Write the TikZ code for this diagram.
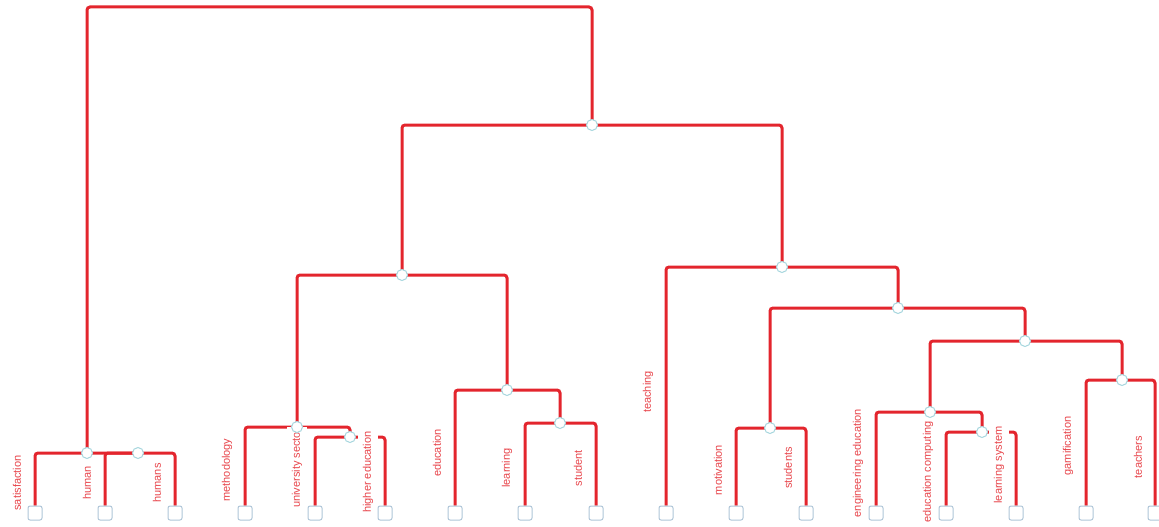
\documentclass[tikz,border=0pt]{standalone}
\usepackage{fontspec}
\setmainfont{Liberation Sans}
\definecolor{lred}{HTML}{E3252D}
\definecolor{tred}{HTML}{E8454B}
\definecolor{cyanish}{HTML}{A6D6DE}
\definecolor{sqcol}{HTML}{AFC6D8}
\pgfdeclarelayer{bg}
\pgfdeclarelayer{mid}
\pgfsetlayers{bg,mid,main}
\tikzset{
  link/.style={draw=lred, line width=3pt, rounded corners=3pt},
  junction/.style={circle, draw=cyanish, fill=white, line width=1pt, minimum size=11pt, inner sep=0pt},
  leaf/.style={rectangle, rounded corners=2pt, draw=sqcol, fill=white, line width=1pt, minimum size=14pt, inner sep=0pt},
  lab/.style={rotate=90, fill=white, text=tred, font=\fontsize{11}{13}\selectfont, inner xsep=1pt, inner ysep=4.5pt}
}
\begin{document}
\begin{tikzpicture}[x=1pt,y=-1pt]
\useasboundingbox (0,0) rectangle (1159,527);
% leaves
\foreach \n/\x in {l1/35,l2/105,l3/175,l4/245,l5/315,l6/385,l7/455,l8/525,l9/596,l10/666,l11/736,l12/806,l13/876,l14/946,l15/1016,l16/1086,l17/1155}
  \node[leaf] (\n) at (\x,513) {};
% junctions
\node[junction] (A) at (87,453) {};
\node[junction] (B) at (138,453) {};
\node[junction] (R) at (592,125) {};
\node[junction] (C) at (402,275) {};
\node[junction] (E) at (297,427) {};
\node[junction] (G) at (350,437) {};
\node[junction] (F) at (507,390) {};
\node[junction] (H) at (560,423) {};
\node[junction] (D) at (782,267) {};
\node[junction] (I) at (898,308) {};
\node[junction] (J) at (770,428) {};
\node[junction] (K) at (1025,341) {};
\node[junction] (L) at (930,412) {};
\node[junction] (N) at (982,432) {};
\node[junction] (M) at (1122,380) {};
\coordinate (top) at (339,7);
\begin{pgfonlayer}{bg}
\draw[link] (A.center) |- (top) -| (R.center);
\draw[link] (l1) |- (A.center) -- (B.center);
\draw[link] (l2) |- (B.center) -| (l3);
\draw[link] (C.center) |- (R.center) -| (D.center);
\draw[link] (E.center) |- (C.center) -| (F.center);
\draw[link] (l4) |- (E.center) -| (G.center);
\draw[link] (l5) |- (G.center) -| (l6);
\draw[link] (l7) |- (F.center) -| (H.center);
\draw[link] (l8) |- (H.center) -| (l9);
\draw[link] (l10) |- (D.center) -| (I.center);
\draw[link] (J.center) |- (I.center) -| (K.center);
\draw[link] (l11) |- (J.center) -| (l12);
\draw[link] (L.center) |- (K.center) -| (M.center);
\draw[link] (l13) |- (L.center) -| (N.center);
\draw[link] (l14) |- (N.center) -| (l15);
\draw[link] (l16) |- (M.center) -| (l17);
\end{pgfonlayer}
\begin{pgfonlayer}{mid}
\node[lab] (t1) at (17,483) {satisfaction};
\node[lab] (t2) at (87,483) {human};
\node[lab] (t3) at (157,483) {humans};
\node[lab] (t4) at (227,470) {methodology};
\node[lab] (t5) at (297,468) {university sector};
\node[lab] (t6) at (368,472) {higher education};
\node[lab] (t7) at (437,453) {education};
\node[lab] (t8) at (507,468) {learning};
\node[lab] (t9) at (578,468) {student};
\node[lab] (t10) at (648,392) {teaching};
\node[lab] (t11) at (718,470) {motivation};
\node[lab] (t12) at (788,468) {students};
\node[lab] (t13) at (858,463) {engineering education};
\node[lab] (t14) at (928,472) {education computing};
\node[lab] (t15) at (999,465) {learning system};
\node[lab] (t16) at (1068,446) {gamification};
\node[lab] (t17) at (1138,457) {teachers};
\end{pgfonlayer}
\end{tikzpicture}
\end{document}
